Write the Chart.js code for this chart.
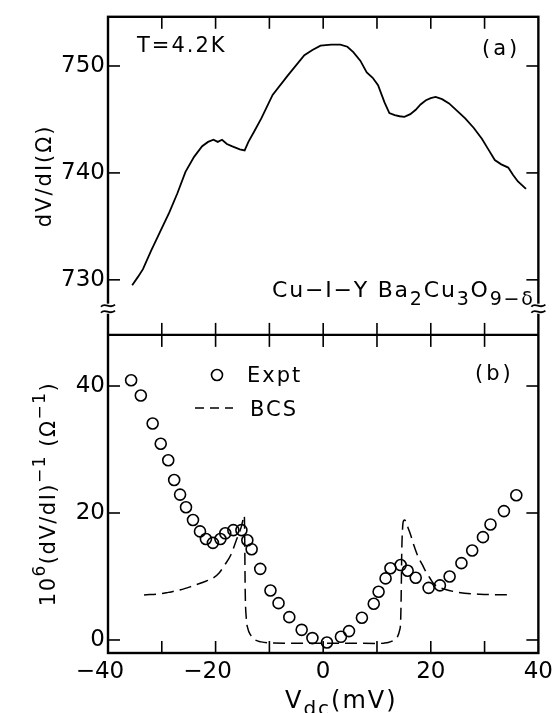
<!DOCTYPE html>
<html>
<head>
<meta charset="utf-8">
<script src="https://cdn.jsdelivr.net/npm/chart.js@4.4.0/dist/chart.umd.min.js"></script>
<style>
html, body { margin: 0; padding: 0; background: #fff; }
</style>
</head>
<body>
<canvas id="grafico" width="558" height="713"></canvas>
<script>
// (a) dV/dI trace, T = 4.2 K
var voltsA = [-35.5,-34.4,-33.5,-32.0,-30.5,-28.6,-27.1,-25.6,-24.0,-22.5,-21.4,-20.4,-19.6,-18.8,-17.9,-17.0,-15.5,-14.6,-13.9,-12.8,-11.5,-9.4,-6.6,-3.5,-2.0,-0.5,1.5,3.2,4.5,5.6,6.9,8.1,9.2,10.2,11.4,12.3,13.3,14.2,15.1,16.2,17.2,18.1,19.1,20.0,20.9,22.1,23.4,24.9,26.4,28.0,29.5,30.7,31.9,33.1,34.4,35.3,36.2,37.7];
var dvdiA = [729.5,730.3,731.0,732.7,734.3,736.3,738.1,740.1,741.5,742.5,742.9,743.1,742.9,743.1,742.7,742.5,742.2,742.1,742.9,743.9,745.1,747.3,749.1,751.0,751.5,751.9,752.0,752.0,751.8,751.3,750.5,749.4,748.9,748.2,746.6,745.6,745.4,745.3,745.25,745.5,745.9,746.4,746.8,747.0,747.1,746.9,746.5,745.8,745.1,744.2,743.2,742.2,741.2,740.8,740.5,739.8,739.2,738.5];

// (b) conductance, experiment
var voltsExpt = [-35.7,-33.9,-31.7,-30.2,-28.8,-27.7,-26.6,-25.5,-24.2,-22.9,-21.8,-20.5,-19.1,-18.2,-16.7,-15.2,-14.1,-13.3,-11.7,-9.8,-8.3,-6.3,-4.0,-2.0,0.7,3.3,4.8,7.2,9.4,10.3,11.6,12.5,14.4,15.7,17.2,19.6,21.7,23.5,25.7,27.7,29.7,31.1,33.6,35.9];
var condExpt = [40.9,38.5,34.1,30.9,28.3,25.2,22.9,20.9,18.9,17.1,15.9,15.3,15.9,16.8,17.3,17.3,15.7,14.3,11.2,7.8,5.8,3.6,1.6,0.3,-0.4,0.5,1.4,3.5,5.7,7.6,9.7,11.3,11.8,10.9,9.8,8.2,8.6,10.0,12.1,14.1,16.2,18.2,20.3,22.8];

// (b) BCS curve
var voltsBCS = [-33.3,-30,-28.8,-26.5,-24.3,-22.3,-20.4,-19.3,-18.4,-17.1,-16.2,-15.6,-15.2,-14.9,-14.75,-14.65,-14.6,-14.5,-14.3,-14.0,-13.5,-12.6,-11.5,-10.0,-5,0,5,10,11.3,12.1,13.0,13.8,14.2,14.4,14.5,14.6,14.75,14.9,15.1,15.4,15.8,16.2,16.9,17.7,18.4,19.0,19.8,20.6,21.6,22.6,25.1,29.1,34.6];
var condBCS = [7.1,7.3,7.5,7.9,8.5,9.1,9.8,10.6,11.7,13.5,15.6,16.9,17.9,19.0,19.6,19.4,17.0,8.0,3.5,1.8,0.8,0.0,-0.3,-0.45,-0.5,-0.5,-0.5,-0.55,-0.5,-0.4,-0.1,0.5,1.5,3.0,7.0,13.6,17.5,18.7,18.9,18.6,17.6,16.7,14.8,13.0,11.9,10.9,9.8,8.8,8.3,8.0,7.5,7.2,7.1];

var xLabels = [-40, -20, 0, 20, 40];

function pts(xs, ys) {
	return xs.map(function(v, i) { return {x: v, y: ys[i]}; });
}

var FONT = '"DejaVu Sans"';

function drawRuns(ctx, parts, x, y) {
	parts.forEach(function(p) {
		ctx.font = p[1] + 'px ' + FONT;
		ctx.fillText(p[0], x, y + p[2]);
		x += ctx.measureText(p[0]).width;
	});
	return x;
}
function runsWidth(ctx, parts) {
	var w = 0;
	parts.forEach(function(p) {
		ctx.font = p[1] + 'px ' + FONT;
		w += ctx.measureText(p[0]).width;
	});
	return w;
}

var frame = {
	id: 'frame',
	afterDraw: function(chart) {
		var ctx = chart.ctx, a = chart.chartArea;
		var sx = chart.scales.x, ya = chart.scales.ya, yb = chart.scales.yb;
		var mid = ya.bottom;
		function seg(x1, y1, x2, y2) {
			ctx.beginPath(); ctx.moveTo(x1, y1); ctx.lineTo(x2, y2); ctx.stroke();
		}
		ctx.save();
		ctx.strokeStyle = '#000';
		ctx.fillStyle = '#000';
		ctx.lineWidth = 2.4;
		ctx.strokeRect(a.left, a.top, a.right - a.left, a.bottom - a.top);
		seg(a.left, mid, a.right, mid);

		// inward ticks
		ctx.lineWidth = 1.6;
		sx.ticks.forEach(function(t) {
			if (t.value <= sx.min || t.value >= sx.max) return;
			var px = sx.getPixelForValue(t.value);
			seg(px, a.top, px, a.top + 12);
			seg(px, mid - 12, px, mid + 12);
			seg(px, a.bottom - 12, px, a.bottom);
		});
		[ya, yb].forEach(function(s) {
			s.ticks.forEach(function(t) {
				var py = s.getPixelForValue(t.value);
				seg(a.left, py, a.left + 12, py);
				seg(a.right - 12, py, a.right, py);
			});
		});

		// axis break marks
		var by = ya.getPixelForValue(727.3);
		[a.left, a.right].forEach(function(bx) {
			ctx.fillStyle = '#fff';
			ctx.fillRect(bx - 4, by - 5, 8, 10);
			ctx.lineWidth = 1.8;
			[-3, 3].forEach(function(o) {
				ctx.beginPath();
				ctx.moveTo(bx - 7, by + o + 1);
				ctx.bezierCurveTo(bx - 3, by + o - 4, bx + 2, by + o + 4, bx + 7, by + o - 1);
				ctx.stroke();
			});
		});
		ctx.fillStyle = '#000';

		// texts inside the panels
		ctx.textBaseline = 'alphabetic';
		ctx.textAlign = 'left';
		ctx.letterSpacing = '2px';
		ctx.font = '21px ' + FONT;
		ctx.fillText('T=4.2K', 137, 52);
		ctx.letterSpacing = '3px';
		ctx.fillText('(a)', 482, 55);
		ctx.fillText('(b)', 475, 380);
		ctx.letterSpacing = '2px';
		ctx.fillText('Expt', 247, 382);
		ctx.fillText('BCS', 250, 416);

		ctx.letterSpacing = '1.8px';
		drawRuns(ctx, [['Cu\u2212I\u2212Y Ba', 22, 0], ['2', 19, 8], ['Cu', 22, 0], ['3', 19, 8], ['O', 22, 0], ['9\u2212\u03b4', 19, 8]], 272, 297);

		// legend marks
		ctx.lineWidth = 1.6;
		ctx.beginPath();
		ctx.arc(217, 375, 5.5, 0, Math.PI * 2);
		ctx.stroke();
		ctx.setLineDash([9, 6]);
		ctx.lineWidth = 1.5;
		seg(195, 408, 233, 408);
		ctx.setLineDash([]);

		// x-axis title with subscript
		ctx.letterSpacing = '2px';
		drawRuns(ctx, [['V', 24, 0], ['dc', 20, 7], ['(mV)', 24, 0]], 285, 708);

		// y-axis title (a)
		ctx.save();
		ctx.translate(51, (ya.top + ya.bottom) / 2);
		ctx.rotate(-Math.PI / 2);
		ctx.textAlign = 'center';
		ctx.letterSpacing = '2px';
		ctx.font = '21px ' + FONT;
		ctx.fillText('dV/dI(\u03a9)', 0, 0);
		ctx.restore();

		// y-axis title (b)
		ctx.save();
		ctx.translate(55, (yb.top + yb.bottom) / 2);
		ctx.rotate(-Math.PI / 2);
		ctx.letterSpacing = '1.5px';
		var partsB = [['10', 21, 0], ['6', 17, -10], ['(dV/dI)', 21, 0], ['\u22121', 17, -10], [' (\u03a9', 21, 0], ['\u22121', 17, -10], [')', 21, 0]];
		drawRuns(ctx, partsB, -runsWidth(ctx, partsB) / 2, 0);
		ctx.restore();

		ctx.restore();
	}
};

var tickFont = {family: 'DejaVu Sans', size: 23};

var grafico = new Chart(document.getElementById('grafico'), {
	type: 'scatter',
	data: {
		datasets: [{
			label: 'dV/dI',
			data: pts(voltsA, dvdiA),
			yAxisID: 'ya',
			showLine: true,
			borderColor: '#000',
			borderWidth: 1.8,
			pointRadius: 0,
			tension: 0
		}, {
			label: 'BCS',
			data: pts(voltsBCS, condBCS),
			yAxisID: 'yb',
			showLine: true,
			borderColor: '#000',
			borderWidth: 1.5,
			borderDash: [12, 6],
			pointRadius: 0,
			cubicInterpolationMode: 'monotone'
		}, {
			label: 'Expt',
			data: pts(voltsExpt, condExpt),
			yAxisID: 'yb',
			showLine: false,
			pointRadius: 5.5,
			pointBorderWidth: 1.6,
			borderColor: '#000',
			backgroundColor: 'rgba(0,0,0,0)'
		}]
	},
	options: {
		responsive: false,
		animation: false,
		devicePixelRatio: 1,
		layout: { padding: { left: 8, right: 14, top: 11, bottom: 0 } },
		plugins: {
			legend: { display: false },
			tooltip: { enabled: false }
		},
		scales: {
			x: {
				type: 'linear',
				position: 'bottom',
				min: -40,
				max: 40,
				grid: { display: false, drawTicks: false },
				border: { display: false },
				ticks: {
					stepSize: 10,
					autoSkip: false,
					maxRotation: 0,
					padding: 5,
					color: '#000',
					font: tickFont,
					callback: function(v) {
						if (xLabels.indexOf(v) < 0) return '';
						return v < 0 ? '\u2212' + (-v) + '\u2002\u2009' : String(v);
					}
				},
				afterFit: function(s) { s.height = 60; }
			},
			yb: {
				type: 'linear',
				position: 'left',
				stack: 'panels',
				stackWeight: 1,
				min: -2.05,
				max: 48.05,
				grid: { display: false, drawTicks: false },
				border: { display: false },
				ticks: { stepSize: 20, includeBounds: false, padding: 3, color: '#000', font: tickFont },
				afterFit: function(s) { s.width = 100; }
			},
			ya: {
				type: 'linear',
				position: 'left',
				stack: 'panels',
				stackWeight: 1,
				min: 724.85,
				max: 754.6,
				grid: { display: false, drawTicks: false },
				border: { display: false },
				ticks: { stepSize: 10, includeBounds: false, padding: 3, color: '#000', font: tickFont },
				afterFit: function(s) { s.width = 100; }
			}
		}
	},
	plugins: [frame]
});
</script>
</body>
</html>
